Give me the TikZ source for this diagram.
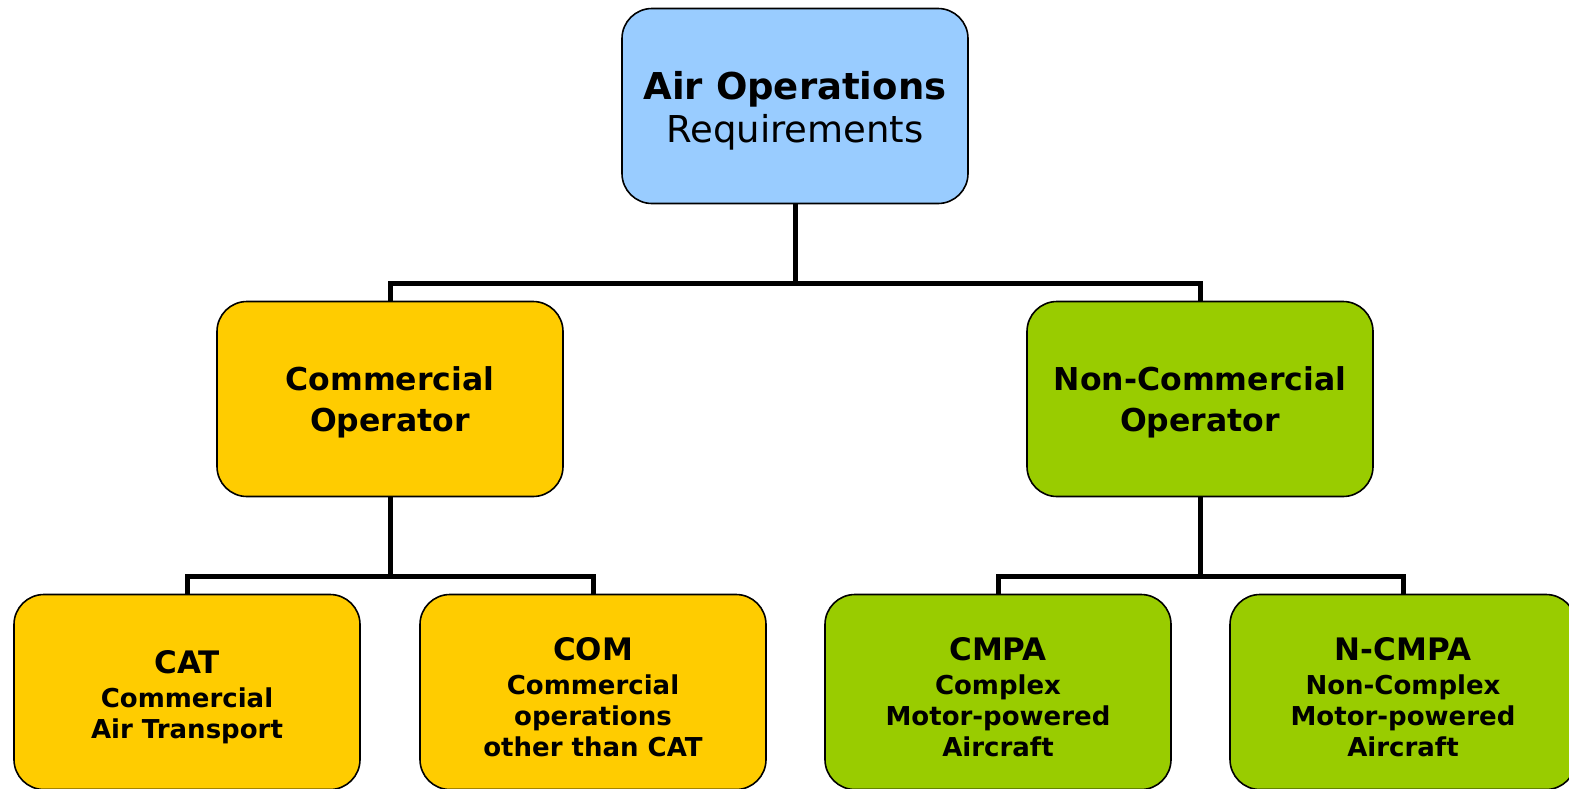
\documentclass[tikz,border=0pt]{standalone}
\usepackage{fontspec}
\setmainfont{DejaVu Sans}
\definecolor{boxblue}{HTML}{99CCFF}
\definecolor{boxyellow}{HTML}{FFCC00}
\definecolor{boxgreen}{HTML}{99CC00}
\tikzset{
  box/.style={draw=black, line width=1.6pt, rounded corners=30pt, minimum width=346pt, minimum height=195pt, inner sep=0pt},
  conn/.style={draw=black, line width=5pt},
  ttop/.style={align=center, inner sep=0pt, text=black, font=\fontsize{37}{43}\selectfont},
  tmid/.style={align=center, inner sep=0pt, text=black, font=\fontsize{31.5}{41}\selectfont\bfseries},
  tlow/.style={align=center, inner sep=0pt, text=black, font=\fontsize{26}{31}\selectfont\bfseries},
}
\newcommand{\btitle}[1]{{\fontsize{31}{31}\selectfont #1}}
\begin{document}
\begin{tikzpicture}[x=1pt,y=-1pt]
\useasboundingbox (0,0) rectangle (1569,788);
\clip (0,0) rectangle (1569,788);
\coordinate (j1) at (795,283);
\coordinate (j2) at (390,576);
\coordinate (j3) at (1200,576);
\node[box, fill=boxblue] (top) at (795,106) {};
\node[box, fill=boxyellow] (co) at (390,399) {};
\node[box, fill=boxgreen] (nco) at (1200,399) {};
\node[box, fill=boxyellow] (cat) at (187,692) {};
\node[box, fill=boxyellow] (com) at (593,692) {};
\node[box, fill=boxgreen] (cmpa) at (998,692) {};
\node[box, fill=boxgreen] (ncmpa) at (1403,692) {};
\node[ttop] (topt) at ([yshift=-5pt]top.center) {\textbf{Air Operations}\\Requirements};
\node[tmid] (cot) at ([yshift=-3pt]co.center) {Commercial\\Operator};
\node[tmid] (ncot) at ([yshift=-3pt]nco.center) {Non-Commercial\\Operator};
\node[tlow] (catt) at ([yshift=-5pt]cat.center) {\btitle{CAT}\\[3pt]Commercial\\Air Transport};
\node[tlow] (comt) at ([yshift=-5pt]com.center) {\btitle{COM}\\[3pt]Commercial\\operations\\other than CAT};
\node[tlow] (cmpat) at ([yshift=-5pt]cmpa.center) {\btitle{CMPA}\\[3pt]Complex\\Motor-powered\\Aircraft};
\node[tlow] (ncmpat) at ([yshift=-5pt]ncmpa.center) {\btitle{N-CMPA}\\[3pt]Non-Complex\\Motor-powered\\Aircraft};
\draw[conn] (top.south) -- (j1);
\draw[conn] (co.north) |- (j1) -| (nco.north);
\draw[conn] (co.south) -- (j2);
\draw[conn] (cat.north) |- (j2) -| (com.north);
\draw[conn] (nco.south) -- (j3);
\draw[conn] (cmpa.north) |- (j3) -| (ncmpa.north);
\end{tikzpicture}
\end{document}
